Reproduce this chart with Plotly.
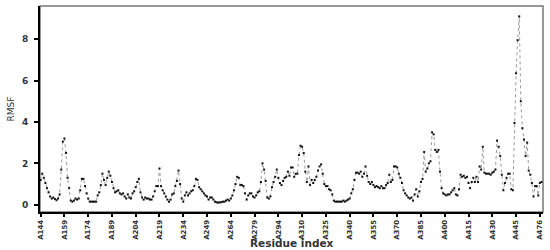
import plotly.graph_objects as go

# RMSF per residue (one value per residue position)
rmsf = [
    1.2, 1.5, 1.3, 1.05, 0.8, 0.6, 0.4, 0.3, 0.35, 0.28,
    0.22, 0.3, 0.5, 1.7, 3.05, 3.2, 2.5, 1.3, 0.8, 0.2,
    0.15, 0.2, 0.3, 0.25, 0.3, 0.7, 1.25, 1.25, 0.9, 0.55,
    0.3, 0.15, 0.15, 0.15, 0.15, 0.15, 0.45, 0.6, 0.95, 1.5,
    1.2, 0.95, 1.3, 1.6, 1.4, 1.1, 0.8, 0.6, 0.65, 0.7,
    0.55, 0.5, 0.55, 0.4, 0.3, 0.5, 0.35, 0.3, 0.55, 0.65,
    0.85, 1.1, 1.25, 0.6, 0.35, 0.25, 0.35, 0.3, 0.3, 0.25,
    0.25, 0.4, 0.65, 0.9, 0.9, 1.75, 0.9, 0.7, 0.55, 0.4,
    0.25, 0.15, 0.25, 0.5, 0.55, 0.9, 1.15, 1.65, 1.0, 0.3,
    0.15, 0.45, 0.6, 0.45, 0.55, 0.65, 0.7, 0.9, 1.25, 1.2,
    0.85, 0.75, 0.65, 0.55, 0.45, 0.4, 0.25, 0.35, 0.35, 0.25,
    0.15, 0.12, 0.1, 0.12, 0.12, 0.15, 0.15, 0.2, 0.25, 0.2,
    0.3, 0.45, 0.7, 1.0, 1.35, 1.3, 0.95, 0.95, 0.9, 0.55,
    0.25, 0.45, 0.55, 0.55, 0.4, 0.35, 0.45, 0.6, 0.65, 1.1,
    2.0, 1.7, 1.15, 0.35, 0.3, 0.4, 0.85, 1.1, 1.35, 1.7,
    1.3, 1.05, 0.95, 1.15, 1.3, 1.35, 1.6, 1.4, 1.8, 1.8,
    1.35, 1.5, 1.5, 2.4, 2.85, 2.8, 2.5, 1.6, 1.1, 1.85,
    0.95, 1.2, 1.05, 1.2, 1.35, 1.65, 1.85, 1.95, 1.5, 1.0,
    0.9, 0.9, 0.75, 0.7, 0.5, 0.2, 0.15, 0.15, 0.15, 0.15,
    0.15, 0.2, 0.15, 0.2, 0.25, 0.3, 0.55, 0.75, 1.2, 1.55,
    1.55, 1.5, 1.6, 1.35, 1.5, 1.85, 1.4, 1.1, 1.0, 1.1,
    0.95, 0.85, 0.9, 0.85, 0.8, 0.9, 0.8, 0.8, 0.95, 1.05,
    1.45, 1.1, 1.2, 1.85, 1.85, 1.8, 1.5, 1.3, 1.05, 0.7,
    0.55, 0.45, 0.35, 0.3, 0.35, 0.2, 0.5, 0.75, 0.4, 0.65,
    1.1, 1.25, 2.55, 1.6, 1.75, 2.0, 2.1, 3.5, 3.4, 2.65,
    2.55, 2.65, 1.6, 0.8, 0.55, 0.5, 0.45, 0.5, 0.5, 0.6,
    0.7, 0.8, 0.5, 0.45, 0.75, 1.45, 1.35, 1.4, 1.3, 1.35,
    1.05, 0.8, 1.1, 1.3, 1.1, 1.35, 1.1, 1.85, 1.7, 2.8,
    1.55, 1.5, 1.5, 1.5, 1.45, 1.55, 1.6, 1.7, 3.1, 2.8,
    2.35, 1.45, 0.7, 1.05, 1.3, 1.5, 1.5, 0.75, 0.7, 3.95,
    6.35, 7.95, 9.1, 5.0, 3.7, 3.15, 2.35, 3.0, 1.65, 1.45,
    1.05, 0.4, 0.9, 0.9, 0.45, 1.05, 1.1,
]

tick_labels = [
    "A144", "A159", "A174", "A189", "A204", "A219", "A234", "A249",
    "A264", "A279", "A294", "A310", "A325", "A340", "A355", "A370",
    "A385", "A400", "A415", "A430", "A445", "A476",
]
tick_pos = [i * 15 for i in range(len(tick_labels))]
y_ticks = [0, 2, 4, 6, 8]

positions = list(range(len(rmsf)))

fig = go.Figure(go.Scatter(
    x=positions,
    y=rmsf,
    mode="lines+markers",
    line=dict(color="#9a9a9a", width=1, dash="dot"),
    marker=dict(symbol="square", size=2, color="#111111"),
    hoverinfo="skip",
))

# grey top/right frame, axes lines (black) sit on the left and bottom
fig.add_shape(
    type="rect", xref="paper", yref="paper", x0=0, y0=0, x1=1, y1=1,
    line=dict(color="#777777", width=1.5), layer="below",
)

fig.add_annotation(
    text="Residue index", xref="paper", yref="paper", x=0.5, y=0,
    yshift=-31, yanchor="middle", showarrow=False,
    font=dict(family="DejaVu Sans", size=10.5, color="#333333", weight="bold"),
)

tick_font = dict(family="DejaVu Sans", size=7, color="#333333", weight="bold")

fig.update_layout(
    width=550,
    height=250,
    margin=dict(l=40, r=7, t=6, b=38),
    paper_bgcolor="white",
    plot_bgcolor="white",
    showlegend=False,
    xaxis=dict(
        range=[-0.4, 317],
        tickmode="array",
        tickvals=tick_pos,
        ticktext=tick_labels,
        tickangle=-90,
        tickfont=tick_font,
        ticklabeloverflow="allow",
        ticks="outside",
        ticklen=3,
        tickwidth=1.5,
        tickcolor="black",
        showgrid=False,
        zeroline=False,
        showline=True,
        linecolor="black",
        linewidth=2,
    ),
    yaxis=dict(
        range=[-0.35, 9.6],
        tickvals=y_ticks,
        tickfont=dict(family="DejaVu Sans", size=9, color="#333333", weight="bold"),
        ticklabelstandoff=4,
        ticks="outside",
        ticklen=4,
        tickwidth=1.5,
        tickcolor="black",
        showgrid=False,
        zeroline=False,
        showline=True,
        linecolor="black",
        linewidth=2,
        title=dict(text="RMSF", standoff=6,
                   font=dict(family="DejaVu Sans", size=9, color="#333333")),
    ),
)

# the page's default body margin would push the 550x250 figure off the window
fig.write_html(
    "out.html",
    config={"displayModeBar": False},
    post_script="document.body.style.margin='0';document.body.style.overflow='hidden';",
)
